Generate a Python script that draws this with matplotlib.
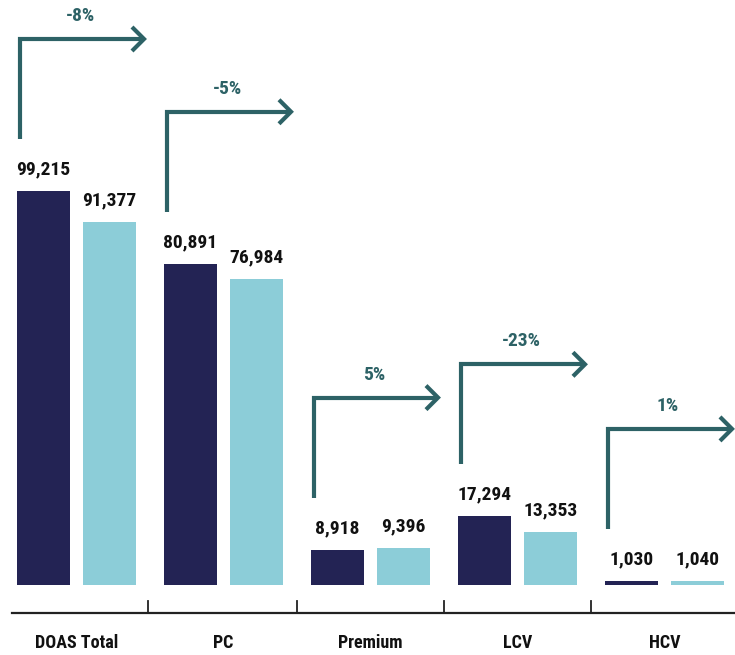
import matplotlib
matplotlib.use("Agg")
import matplotlib.pyplot as plt

# data
categories = ["DOAS Total", "PC", "Premium", "LCV", "HCV"]
prev_year = [99215, 80891, 8918, 17294, 1030]
this_year = [91377, 76984, 9396, 13353, 1040]
changes = ["-8%", "-5%", "5%", "-23%", "1%"]

DARK = "#232354"
LIGHT = "#8ccdd8"
TEAL = "#2d6266"

plt.rcParams["font.family"] = ["Roboto Condensed", "DejaVu Sans"]

fig = plt.figure(figsize=(7.35, 6.55), dpi=100)
ax = fig.add_axes([0, 0, 1, 1])
ax.axis("off")

# scale: 1 px ~ 251.8 units in y, 147 px per group in x
px_y = 99215 / 394.0
px_x = 1 / 147.0
ax.set_xlim(-76.5 * px_x, (735 - 76.5) * px_x)
ax.set_ylim(-70 * px_y, 585 * px_y)

w = 53 * px_x
off = 33 * px_x
x = list(range(len(categories)))

ax.bar([i - off for i in x], prev_year, width=w, color=DARK)
ax.bar([i + off for i in x], this_year, width=w, color=LIGHT)

for i in x:
    ax.annotate(f"{prev_year[i]:,}", (i - off, prev_year[i]), xytext=(0, 9),
                textcoords="offset points", ha="center", va="bottom",
                fontsize=14, fontweight="bold", color="#111111")
    ax.annotate(f"{this_year[i]:,}", (i + off, this_year[i]), xytext=(0, 9),
                textcoords="offset points", ha="center", va="bottom",
                fontsize=14, fontweight="bold", color="#111111")

    # elbow arrow
    x0 = i - off - w / 2 + 3 * px_x
    y0 = prev_year[i] + 52 * px_y
    y1 = y0 + 100 * px_y
    x1 = x0 + 124 * px_x
    ax.plot([x0, x0, x1], [y0, y1, y1], color=TEAL, lw=3.0,
            solid_joinstyle="miter", solid_capstyle="butt")
    h = 12
    ax.plot([x1 - h * px_x, x1, x1 - h * px_x],
            [y1 + h * px_y, y1, y1 - h * px_y], color=TEAL, lw=3.0,
            solid_joinstyle="miter", solid_capstyle="butt")
    ax.text(x0 + 60 * px_x, y1 + 14 * px_y, changes[i], ha="center",
            va="bottom", fontsize=14, fontweight="bold", color=TEAL)

    ax.text(i, -58 * px_y, categories[i], ha="center", va="center",
            fontsize=13, fontweight="bold", color="#111111")

# axis line and separators
ax.plot([-64.5 * px_x, 660 * px_x], [-28 * px_y, -28 * px_y], color="#222222", lw=1.6)
for b in [0.486, 1.5, 2.5, 3.5]:
    ax.plot([b, b], [-28 * px_y, -16 * px_y], color="#222222", lw=1.3)

fig.savefig("out.png", dpi=100)
